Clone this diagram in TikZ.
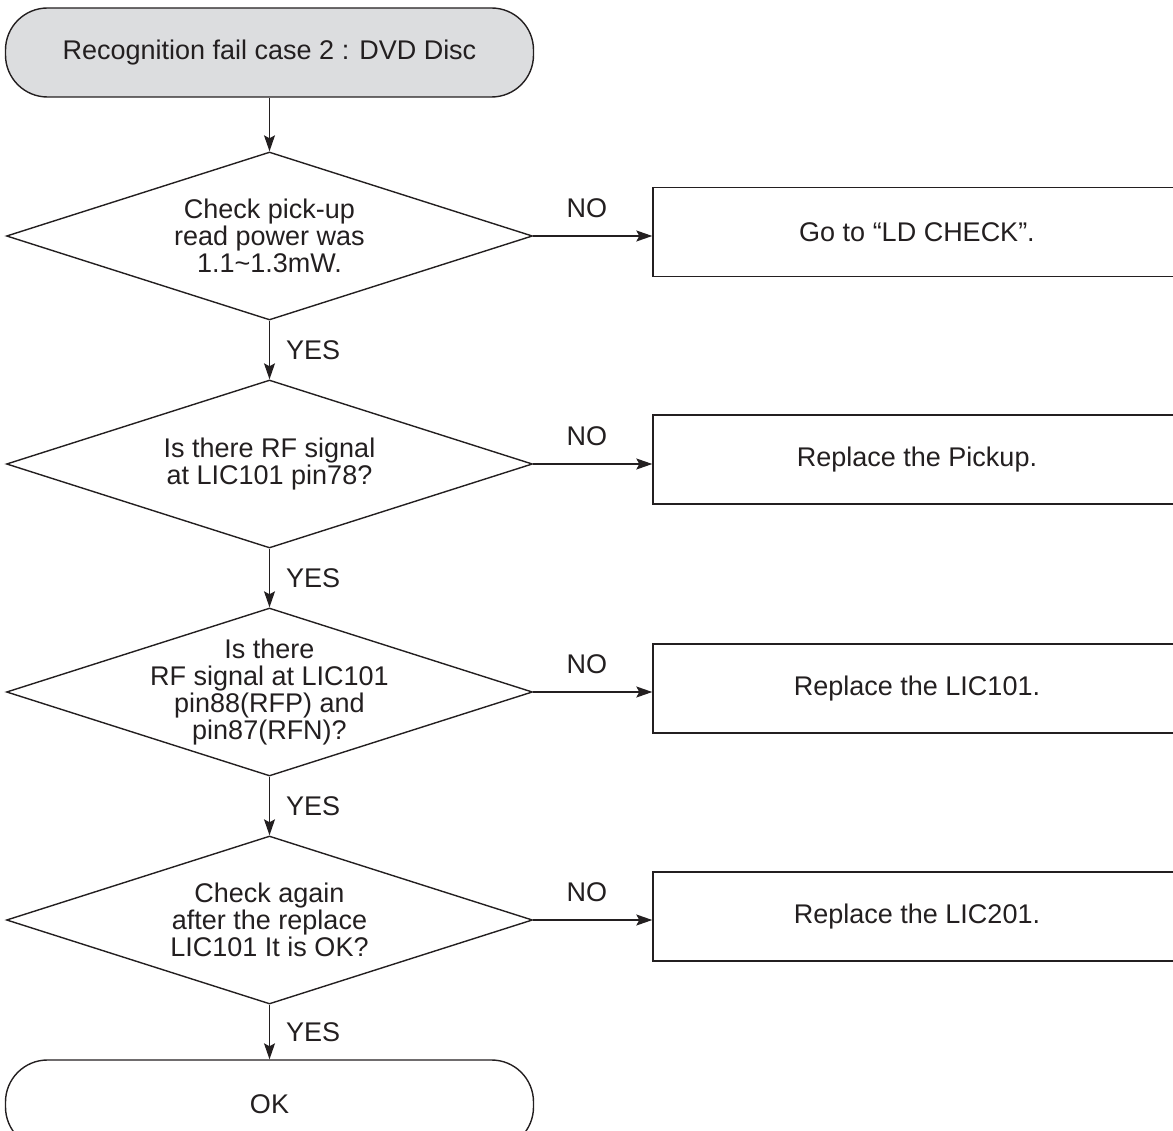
\documentclass[tikz,border=0pt]{standalone}
\usepackage{fontspec}
\setmainfont{Liberation Sans}
\usetikzlibrary{shapes.geometric,arrows.meta}
\definecolor{ink}{RGB}{35,31,32}
\definecolor{startfill}{RGB}{220,221,223}
\newcommand\fsz{\fontsize{27}{27}\selectfont}
\begin{document}
\begin{tikzpicture}[x=1pt,y=-1pt,
  every node/.style={text=ink},
  term/.style={draw=ink, line width=1.4pt, rounded corners=42pt, minimum width=528pt, minimum height=89pt, font=\fsz, inner sep=0pt},
  dia/.style={draw=ink, shape=diamond, minimum width=526pt, minimum height=168pt, inner sep=0pt, line width=1.4pt},
  txt/.style={align=center, font=\fsz, inner sep=0pt},
  actbox/.style={draw=ink, rectangle, minimum width=528pt, minimum height=89pt, line width=1.4pt, font=\fsz},
  lab/.style={font=\fsz, inner sep=0pt},
  arr/.style={draw=ink, line width=1.4pt, -{Stealth[length=16pt,width=11pt,inset=3pt]}}
]
\useasboundingbox (0,0) rectangle (1173,1131);
\clip (0,0) rectangle (1173,1131);

\node[term, fill=startfill] (start) at (269.5,52.5) {Recognition fail case 2 : DVD Disc};

\node[dia] (d1) at (269.5,236) {};
\node[txt] (t1) at (d1.center) {Check pick-up\\read power was\\1.1\textasciitilde1.3mW.};
\node[dia] (d2) at (269.5,464) {};
\node[txt] (t2) at (d2.center) {Is there RF signal\\at LIC101 pin78?};
\node[dia] (d3) at (269.5,692) {};
\node[txt] (t3) at (d3.center) {Is there\\RF signal at LIC101\\pin88(RFP) and\\pin87(RFN)?};
\node[dia] (d4) at (269.5,920) {};
\node[txt] (t4) at (d4.center) {Check again\\after the replace\\LIC101 It is OK?};

\node[term] (ok) at (269.5,1104.5) {OK};

\node[actbox] (b1) at (917,232) {Go to “LD CHECK”.};
\node[actbox] (b2) at (917,459.5) {Replace the Pickup.};
\node[actbox] (b3) at (917,688.5) {Replace the LIC101.};
\node[actbox] (b4) at (917,916.5) {Replace the LIC201.};

\draw[arr] (start) -- (d1.north);
\draw[arr] (d1.south) -- node[lab, right=16pt] {YES} (d2.north);
\draw[arr] (d2.south) -- node[lab, right=16pt] {YES} (d3.north);
\draw[arr] (d3.south) -- node[lab, right=16pt] {YES} (d4.north);
\draw[arr] (d4.south) -- node[lab, right=16pt] {YES} (ok.north);

\draw[arr] (d1.east) -- node[lab, above=18pt, pos=0.45] {NO} (d1.east -| b1.west);
\draw[arr] (d2.east) -- node[lab, above=18pt, pos=0.45] {NO} (d2.east -| b2.west);
\draw[arr] (d3.east) -- node[lab, above=18pt, pos=0.45] {NO} (d3.east -| b3.west);
\draw[arr] (d4.east) -- node[lab, above=18pt, pos=0.45] {NO} (d4.east -| b4.west);
\end{tikzpicture}
\end{document}
